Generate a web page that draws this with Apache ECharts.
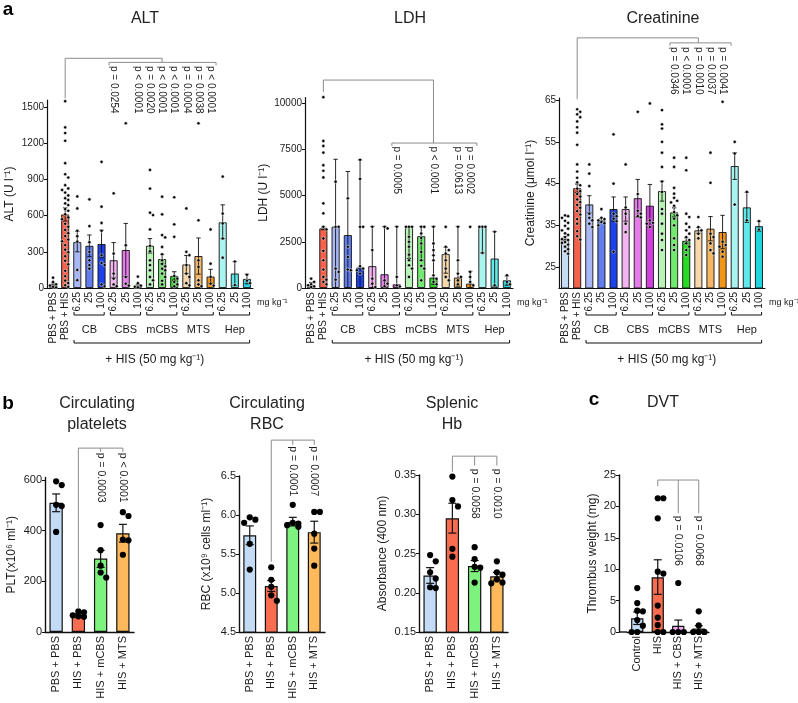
<!DOCTYPE html>
<html><head><meta charset="utf-8">
<script src="https://cdn.jsdelivr.net/npm/echarts@6/dist/echarts.min.js"></script>
<style>html,body{margin:0;padding:0;background:#fff}#c{width:798px;height:703px}</style>
</head><body><div id="c"></div>
<script>
// ---------- Panel a : categories ----------
const aCats = ['PBS + PBS','PBS + HIS','CB|6.25','CB|25','CB|100','CBS|6.25','CBS|25','CBS|100','mCBS|6.25','mCBS|25','mCBS|100','MTS|6.25','MTS|25','MTS|100','Hep|6.25','Hep|25','Hep|100'];
const aGroups = ['CB','CBS','mCBS','MTS','Hep'];
const aColors = ['#c6dcf6','#f4624a','#a9b7f6','#627ded','#1e42ea','#f3b5f2','#e57ce9','#d43fe0','#b7f4b6','#72ea70','#26da26','#f8d8ab','#f5b766','#f39618','#aaf4f0','#5fe9ea','#1fd5e0'];

// ALT
const altMean = [30,610,380,350,365,230,315,20,350,240,100,195,265,95,545,120,75];
const altLo   = [18,555,300,260,250,85,95,10,290,200,65,120,115,40,410,20,35];
const altHi   = [42,665,470,440,480,377,536,30,410,280,135,270,415,155,690,220,115];
const altDots = [
 [86,50,30,20,10,5],
 [1550,1333,1286,1222,1036,944,917,853,826,814,792,768,745,731,702,688,655,641,612,586,571,533,508,482,455,431,402,388,356,318,297,264,226,197,143,98,62,41,23,9],
 [760,660,475,430,385,150,65],
 [736,514,380,300,230,190,160],
 [1047,675,540,475,272,208,190,30,14],
 [786,286,120,78,30,15],
 [1367,355,92,36,20],
 [95,40,20,10,5],
 [980,825,625,605,486,350,305,230,190,147,92,64,30],
 [758,611,439,420,341,280,230,200,180,160,147,120,92,60,30],
 [753,528,425,100,78,50,30,14],
 [660,300,272,190,120,92,40,22],
 [1367,562,230,175,64,30,15],
 [486,202,92,36,20],
 [925,618,536,411,252],
 [220,25],
 [110,60,40]
];
const altPCats = [5,7,8,9,10,11,12,13];
const altPTexts = ['p = 0.0254','p < 0.0001','p = 0.0020','p < 0.0001','p < 0.0001','p = 0.0004','p = 0.0038','p < 0.0001'];

// LDH
const ldhMean = [150,3220,3310,2860,1100,1180,740,200,3310,2800,560,1830,560,235,3310,1590,415];
const ldhLo   = [60,3150,0,0,0,0,0,0,1600,1500,200,800,100,0,1900,100,150];
const ldhHi   = [300,3300,6960,6300,6930,3330,3330,3330,3330,3330,3330,2200,3330,900,3330,3050,650];
const ldhDots = [
 [507,330,200,150,90,50],
 [10320,7950,7680,7320,6640,6340,5980,4580,4040,3310,3170,2680,2010,1500,1000,600,450,330,200],
 [5750,3310,3310,1050,870,450],
 [4850,2230,1680,1000,960],
 [6930,5900,3310,3310,1180,1050,960,780],
 [3310,2050,507,235,54],
 [3310,3220,415,235,100],
 [3310,600,145,80],
 [3310,3310,3310,2770,2500,2230,1800,1500,1230,1050,600],
 [3310,3310,2950,2700,2410,1950,1500,1200,1050,415],
 [3310,2410,2050,1770,1500,690,500,330,200],
 [3310,2230,2050,1860,1500,1050,600,415],
 [3310,1500,780,600,415,200],
 [3310,870,600,330,145],
 [3310,3310,3310,1900],
 [3040,145],
 [690,330,200]
];
const ldhPCats = [7,10,12,13];
const ldhPTexts = ['p = 0.0005','p < 0.0001','p = 0.0613','p = 0.0002'];

// Creatinine
const crMean = [31.8,43.9,40.0,36.2,38.9,38.9,41.5,39.7,43.2,38.1,31.3,33.8,34.2,33.4,49.2,39.3,34.8];
const crLo   = [31.3,42.9,38.0,35.8,36.0,36.0,37.0,34.6,40.8,37.0,30.6,33.1,31.3,29.4,46.0,35.7,33.6];
const crHi   = [32.3,44.9,42.1,36.6,41.8,41.8,46.0,44.8,45.6,39.2,32.0,34.5,37.1,37.4,52.4,42.9,36.0];
const crDots = [
 [37.4,37.2,36.8,36.1,35.6,34.9,34.2,33.8,33.1,32.7,32.2,31.5,31.0,30.4,29.9,29.3,28.8,28.2,30.8,31.7],
 [62.8,62.2,61.6,60.9,59.9,58.5,57.2,54.3,49.6,47.9,46.4,45.3,44.6,43.8,43.2,42.5,41.9,41.2,40.6,39.9,39.2,38.4,37.6,36.5,35.4,33.6,32.4,31.6],
 [49.6,47.4,44.4,37.8,36.8,36.2,35.4,34.6],
 [38.9,36.8,36.5,36.2,35.8,35.5,35.0],
 [56.8,45.0,37.8,37.2,36.6,36.0,28.7],
 [49.6,39.3,37.8,35.4,33.4],
 [62.2,42.5,38.5,37.8,37.2,36.9],
 [64.2,36.2,35.6,35.4,34.6],
 [62.6,59.2,58.2,55.0,52.4,49.0,45.5,43.0,38.9,37.8,35.4,33.0,31.5,29.1],
 [51.2,49.0,44.0,42.6,41.6,40.9,40.5,39.7,38.2,37.4,36.6,35.0,31.9,30.3,29.1],
 [51.2,48.2,37.8,37.0,35.4,34.6,33.8,33.0,32.2,31.5,30.7,29.9,29.1,27.9],
 [37.0,34.6,33.8,33.0,31.9],
 [52.4,45.2,33.0,32.2,30.7,29.1,28.3],
 [64.6,31.1,30.3,29.9,28.7,27.5],
 [55.0,52.2,40.0],
 [43.0,36.2],
 [36.0,34.0]
];
const crTicks = [25,35,45,55,65];
const crPCats = [9,10,11,12,13];
const crPTexts = ['p = 0.0346','p < 0.0001','p = 0.0010','p = 0.0037','p = 0.0041'];

// ---------- Panel b ----------
const bCats = ['PBS + PBS','HIS + PBS','HIS + mCBS','HIS + MTS'];
const bColors = ['#c3dbf5','#f86c50','#7ef27e','#fdb95a'];
const pltMean = [510,65,290,390], pltLo = [475,58,255,355], pltHi = [545,72,322,425];
const pltDots = [[595,580,502,497,395],[82,78,66,62,60],[422,323,262,235,215],[473,458,365,362,305]];
const pltPTexts = ['p = 0.0003','p < 0.0001'];
const rbcMean = [5.74,5.09,5.91,5.78], rbcLo = [5.62,5.02,5.86,5.64], rbcHi = [5.86,5.16,5.97,5.92];
const rbcDots = [[5.97,5.94,5.90,5.63,5.30],[5.33,5.17,5.08,4.97,4.90],[6.13,5.90,5.89,5.87,5.85],[6.04,6.04,5.76,5.57,5.35]];
const rbcPTexts = ['p = 0.0001','p = 0.0007'];
const hbMean = [0.222,0.295,0.234,0.221], hbLo = [0.212,0.276,0.227,0.216], hbHi = [0.232,0.314,0.241,0.226];
const hbDots = [[0.248,0.240,0.226,0.218,0.207,0.206],[0.348,0.318,0.310,0.256,0.246],[0.258,0.243,0.233,0.232,0.213],[0.240,0.226,0.223,0.217,0.213,0.212]];
const hbPTexts = ['p = 0.0058','p = 0.0010'];

// ---------- Panel c ----------
const cCats = ['Control','HIS','HIS + CBS','HIS + MTS'];
const cColors = ['#c3dbf5','#f86c50','#f2a9f0','#fdb95a'];
const dvtMean = [2.2,8.7,1.0,0.55], dvtLo = [1.2,6.0,0.1,0.1], dvtHi = [3.2,11.5,1.9,1.0];
const dvtDots = [[7.0,4.6,3.4,3.3,1.9,1.0,0,0],[21.3,21.3,18.1,9.6,9.3,4.2,2.3,1.1,0,0],[7.8,0,0,0],[3.3,1.05,0,0,0,0]];
const dvtPTexts = ['p = 0.0106','p = 0.0068'];

const FONT = '"Liberation Sans", Arial, sans-serif';
const INK = '#1a1a1a';

function swarm(vals, ppu, d, maxSlot){
  const placed = [], out = [];
  vals.forEach(v => {
    const y = v * ppu;
    let best = 0, bestCost = Infinity;
    for (let k = 0; k <= 2*maxSlot; k++){
      const s = k === 0 ? 0 : (k % 2 ? Math.ceil(k/2) : -k/2);
      const x = s * d * 0.85;
      let cost = 0;
      for (const p of placed){ const dist = Math.hypot(p[0]-x, p[1]-y); if (dist < d) cost += (d - dist); }
      if (cost === 0){ best = x; bestCost = 0; break; }
      if (cost < bestCost){ bestCost = cost; best = x; }
    }
    placed.push([best, y]); out.push(best);
  });
  return out;
}

const panels = [
 {grid:{left:47,top:100,width:206,height:188}, y:{min:0,max:1560,interval:300}, cats:aCats, colors:aColors, mean:altMean, lo:altLo, hi:altHi, dots:altDots,
  yName:'ALT (U l⁻¹)', nameGap:31, big:true,
  lines:[[[1,1574],[1,1906],[9,1906],[9,1872]], [[4.62,1847],[4.62,1872],[13.45,1872],[13.45,1847]]],
  pl: altPCats.map((c,i)=>[c,1842,altPTexts[i]])},
 {grid:{left:305,top:97.5,width:208,height:190.5}, y:{min:0,max:10300,interval:2500}, cats:aCats, colors:aColors, mean:ldhMean, lo:ldhLo, hi:ldhHi, dots:ldhDots,
  yName:'LDH (U l⁻¹)', nameGap:35, big:true,
  lines:[[[1,10600],[1,11243],[10,11243],[10,7838]], [[6.6,7676],[6.6,7838],[13.55,7838],[13.55,7676]]],
  pl: ldhPCats.map((c,i)=>[c,7650,ldhPTexts[i]])},
 {grid:{left:559,top:98,width:206,height:190}, y:{min:20,max:65.5,custom:crTicks}, cats:aCats, colors:aColors, mean:crMean, lo:crLo, hi:crHi, dots:crDots,
  yName:'Creatinine (μmol l⁻¹)', nameGap:22, big:true,
  lines:[[[1,65.2],[1,79.9],[11,79.9],[11,78.7]], [[8.66,78.0],[8.66,78.7],[13.7,78.7],[13.7,78.0]]],
  pl: crPCats.map((c,i)=>[c,77.7,crPTexts[i]])},
 {grid:{left:45,top:477.5,width:89,height:154.5}, y:{min:0,max:610,interval:200}, cats:bCats, colors:bColors, mean:pltMean, lo:pltLo, hi:pltHi, dots:pltDots,
  yName:'PLT(x10⁶ ml⁻¹)', nameGap:27,
  lines:[[[1,92],[1,726],[3,726],[3,711]], [[2,726],[2,711]]],
  pl:[[2,708,pltPTexts[0]],[3,708,pltPTexts[1]]]},
 {grid:{left:239,top:476,width:86,height:156}, y:{min:4.5,max:6.5,interval:0.5,fmt:1}, cats:bCats, colors:bColors, mean:rbcMean, lo:rbcLo, hi:rbcHi, dots:rbcDots,
  yName:'RBC (x10⁹ cells ml⁻¹)', nameGap:26,
  lines:[[[1,5.40],[1,6.96],[3,6.96],[3,6.90]], [[2,6.96],[2,6.90]]],
  pl:[[2,6.88,rbcPTexts[0]],[3,6.88,rbcPTexts[1]]]},
 {grid:{left:419,top:475,width:89,height:157}, y:{min:0.15,max:0.35,interval:0.05,fmt:2}, cats:bCats, colors:bColors, mean:hbMean, lo:hbLo, hi:hbHi, dots:hbDots,
  yName:'Absorbance (400 nm)', nameGap:30,
  lines:[[[1,0.354],[1,0.374],[3,0.374],[3,0.362]], [[2,0.374],[2,0.362]]],
  pl:[[2,0.358,hbPTexts[0]],[3,0.358,hbPTexts[1]]]},
 {grid:{left:627,top:475,width:82,height:157}, y:{min:0,max:25,interval:5}, cats:cCats, colors:cColors, mean:dvtMean, lo:dvtLo, hi:dvtHi, dots:dvtDots,
  yName:'Thrombus weight (mg)', nameGap:20, yOffset:8,
  lines:[[[1,23.2],[1,24.2],[3,24.2],[3,18.9]], [[2,24.2],[2,18.9]]],
  pl:[[2,18.5,dvtPTexts[0]],[3,18.5,dvtPTexts[1]]]}
];

const option = {animation:false, backgroundColor:'#fff', textStyle:{fontFamily:FONT}, grid:[], xAxis:[], yAxis:[], series:[], graphic:[]};

panels.forEach((P,k) => {
  const big = !!P.big;
  option.grid.push(Object.assign({containLabel:false}, P.grid));
  option.xAxis.push({type:'category', gridIndex:k, data:P.cats,
    axisLine:{lineStyle:{color:'#111',width:big?1.2:1.4}}, axisTick:{show:false},
    axisLabel:{rotate:90, interval:0, fontSize:big?10:11, color:INK, margin:4, fontFamily:FONT,
      formatter:v => v.split('|').pop()}});
  const ya = {type:'value', gridIndex:k, min:P.y.min, max:P.y.max, offset:P.yOffset||0,
    axisLine:{show:true, lineStyle:{color:'#111', width:big?1.2:1.4}},
    axisTick:{show:true, length:3, lineStyle:{color:'#111'}},
    splitLine:{show:false},
    axisLabel:{fontSize:big?10:11, color:INK, margin:3, fontFamily:FONT,
      formatter: v => P.y.fmt ? Number(v).toFixed(P.y.fmt) : String(Math.round(v))},
    name:P.yName, nameLocation:'middle', nameGap:P.nameGap, nameTextStyle:{fontSize:12, color:INK, fontFamily:FONT}};
  if (P.y.interval) ya.interval = P.y.interval;
  if (P.y.custom){ ya.axisLabel.customValues = P.y.custom; ya.axisTick.customValues = P.y.custom; }
  option.yAxis.push(ya);

  option.series.push({type:'bar', xAxisIndex:k, yAxisIndex:k, barWidth:big?'66%':'60%', silent:true,
    data:P.mean.map((v,i)=>({value:v, itemStyle:{color:P.colors[i]}})),
    itemStyle:{borderColor:'#111', borderWidth:big?0.9:1.2}});

  const capW = big ? 2.2 : 4;
  option.series.push({type:'custom', xAxisIndex:k, yAxisIndex:k, silent:true, z:3,
    data:P.mean.map((v,i)=>[i, P.lo[i], P.hi[i]]),
    renderItem:(params, api) => {
      const x = api.coord([api.value(0), P.y.min])[0];
      const yl = api.coord([0, api.value(1)])[1];
      const yh = api.coord([0, api.value(2)])[1];
      const st = {stroke:'#111', lineWidth:big?0.9:1.2};
      return {type:'group', children:[
        {type:'line', shape:{x1:x,y1:yl,x2:x,y2:yh}, style:st},
        {type:'line', shape:{x1:x-capW,y1:yh,x2:x+capW,y2:yh}, style:st},
        {type:'line', shape:{x1:x-capW,y1:yl,x2:x+capW,y2:yl}, style:st}]};
    }});

  const ppu = P.grid.height / (P.y.max - P.y.min);
  const r = big ? 1.6 : 3.1;
  const dd = big ? 3.6 : 6.6;
  const dotData = [];
  P.dots.forEach((vals,i) => {
    const offs = swarm(vals, ppu, dd, 1);
    vals.forEach((v,j) => dotData.push([i, v, offs[j]]));
  });
  option.series.push({type:'custom', xAxisIndex:k, yAxisIndex:k, silent:true, z:4,
    data:dotData,
    renderItem:(params, api) => {
      const p = api.coord([api.value(0), api.value(1)]);
      return {type:'circle', shape:{cx:p[0]+api.value(2), cy:p[1], r:r},
        style:{fill:'#000', stroke:big?'#fff':null, lineWidth:big?0.5:0}};
    }});

  option.series.push({type:'custom', xAxisIndex:k, yAxisIndex:k, silent:true, z:5, clip:false,
    data:[[0, P.y.min]],
    renderItem:(params, api) => {
      const bw = api.size([1,0])[0];
      const X = f => { const i = Math.floor(f); return api.coord([i, P.y.min])[0] + (f-i)*bw; };
      const Y = v => api.coord([0, v])[1];
      const ch = [];
      const ls = {stroke:'#8c8c8c', lineWidth:1, fill:'none'};
      P.lines.forEach(pl => ch.push({type:'polyline', shape:{points:pl.map(p=>[X(p[0]),Y(p[1])])}, style:ls}));
      P.pl.forEach(t => ch.push({type:'text', x:X(t[0]), y:Y(t[1]), rotation:-Math.PI/2,
        style:{text:t[2], fill:INK, font:(big?'10px ':'10.5px ')+FONT, textAlign:'left', textVerticalAlign:'middle'}}));
      const yb = Y(P.y.min);
      if (big){
        const bs = {stroke:'#111', lineWidth:1, fill:'none'};
        aGroups.forEach((g,gi) => {
          const s = 2 + 3*gi, e = s + 2;
          ch.push({type:'polyline', shape:{points:[[X(s-0.27),yb+24],[X(s-0.27),yb+27],[X(e+0.22),yb+27],[X(e+0.22),yb+24]]}, style:bs});
          ch.push({type:'text', x:X(s+1), y:yb+42, style:{text:g, fill:INK, font:'11px '+FONT, textAlign:'center', textVerticalAlign:'middle'}});
        });
        ch.push({type:'polyline', shape:{points:[[X(2-0.27),yb+52],[X(2-0.27),yb+55],[X(16+0.22),yb+55],[X(16+0.22),yb+52]]}, style:bs});
        ch.push({type:'text', x:X(8.4), y:yb+72, style:{text:'+ HIS (50 mg kg⁻¹)', fill:INK, font:'12px '+FONT, textAlign:'center', textVerticalAlign:'middle'}});
        ch.push({type:'text', x:X(16)+bw/2+4, y:yb+15, style:{text:'mg kg⁻¹', fill:INK, font:'9px '+FONT, textAlign:'left', textVerticalAlign:'middle'}});
      }
      if (P.yOffset){
        const x0 = X(0) - bw/2;
        ch.push({type:'line', shape:{x1:x0-P.yOffset, y1:yb, x2:x0, y2:yb}, style:{stroke:'#111', lineWidth:1.4}});
      }
      return {type:'group', children:ch};
    }});
});

const titles = [
 [145,19,'ALT'],[410,19,'LDH'],[663,19,'Creatinine'],
 [97,404,'Circulating'],[97,425,'platelets'],
 [267,404,'Circulating'],[267,425,'RBC'],
 [452,404,'Splenic'],[452,425,'Hb'],
 [663,403,'DVT']
];
titles.forEach(t => option.graphic.push({type:'text', x:t[0], y:t[1], silent:true,
  style:{text:t[2], fill:'#222', font:'16px '+FONT, textAlign:'center', textVerticalAlign:'middle'}}));
[[8,10,'a'],[8,404,'b'],[594,400,'c']].forEach(t => option.graphic.push({type:'text', x:t[0], y:t[1], silent:true,
  style:{text:t[2], fill:'#000', font:'bold 19px '+FONT, textAlign:'center', textVerticalAlign:'middle'}}));

const chart = echarts.init(document.getElementById('c'), null, {renderer:'canvas'});
chart.setOption(option);
</script>
</body></html>
